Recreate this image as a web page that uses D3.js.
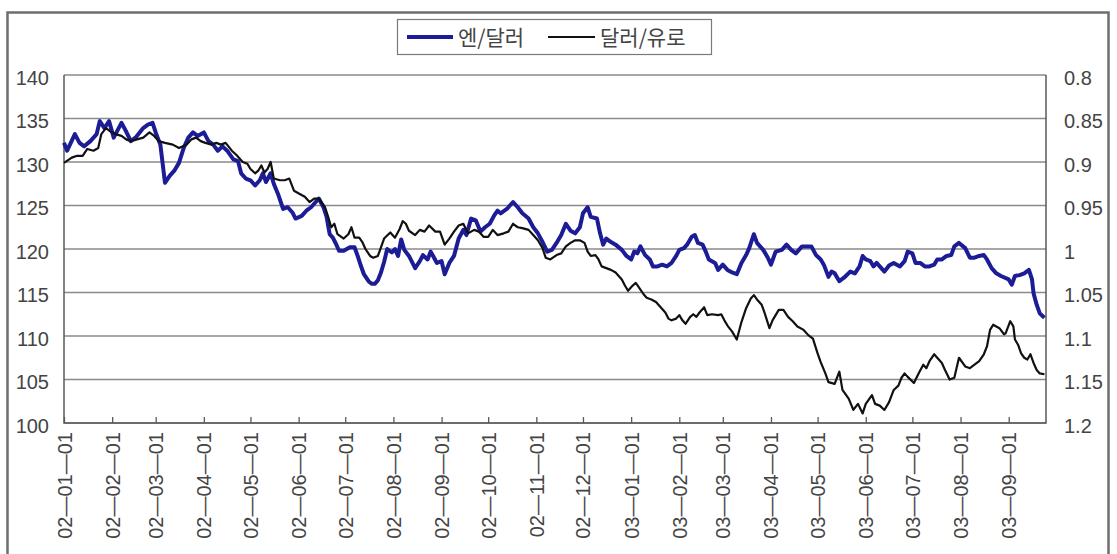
<!DOCTYPE html>
<html>
<head>
<meta charset="utf-8">
<script src="https://cdn.jsdelivr.net/npm/d3@7"></script>
<style>
  body { margin: 0; background: #fff; }
  svg { display: block; font-family: "Liberation Sans", Arial, sans-serif; }
</style>
</head>
<body>
<svg id="chart" width="1117" height="554"></svg>
<script>
// series names (legend)
const seriesNames = ["엔/달러", "달러/유로"];

// month tick labels on the x axis
const xTickLabels = ["02-01-01", "02-02-01", "02-03-01", "02-04-01", "02-05-01", "02-06-01",
  "02-07-01", "02-08-01", "02-09-01", "02-10-01", "02-11-01", "02-12-01",
  "03-01-01", "03-02-01", "03-03-01", "03-04-01", "03-05-01", "03-06-01",
  "03-07-01", "03-08-01", "03-09-01"];

const leftTicks = [100, 105, 110, 115, 120, 125, 130, 135, 140];
const rightTicks = [0.8, 0.85, 0.9, 0.95, 1, 1.05, 1.1, 1.15, 1.2];
const rightTickLabels = ["0.8", "0.85", "0.9", "0.95", "1", "1.05", "1.1", "1.15", "1.2"];

// yen per dollar (left axis)
const yenDollar = [
  ["2002-01-01", 132.2], ["2002-01-03", 131.3], ["2002-01-08", 133.2], ["2002-01-11", 132.2],
  ["2002-01-14", 131.8], ["2002-01-18", 132.4], ["2002-01-22", 133.2], ["2002-01-24", 134.7],
  ["2002-01-27", 133.9], ["2002-01-30", 134.7], ["2002-02-02", 132.8], ["2002-02-07", 134.5],
  ["2002-02-10", 133.5], ["2002-02-13", 132.4], ["2002-02-16", 132.8], ["2002-02-21", 133.9],
  ["2002-02-24", 134.3], ["2002-02-27", 134.5], ["2002-03-01", 133.4], ["2002-03-04", 132.0],
  ["2002-03-07", 127.6], ["2002-03-10", 128.4], ["2002-03-13", 129.0], ["2002-03-16", 129.9],
  ["2002-03-19", 131.6], ["2002-03-22", 132.8], ["2002-03-25", 133.4], ["2002-03-28", 133.0],
  ["2002-04-01", 133.4], ["2002-04-04", 132.4], ["2002-04-07", 132.0], ["2002-04-10", 131.3],
  ["2002-04-13", 131.8], ["2002-04-16", 131.3], ["2002-04-20", 130.3], ["2002-04-23", 130.1],
  ["2002-04-25", 128.7], ["2002-04-28", 128.1], ["2002-05-01", 127.9], ["2002-05-04", 127.3],
  ["2002-05-07", 127.9], ["2002-05-09", 128.7], ["2002-05-11", 127.7], ["2002-05-14", 128.7],
  ["2002-05-16", 127.5], ["2002-05-19", 126.2], ["2002-05-22", 124.6], ["2002-05-25", 124.8],
  ["2002-05-28", 124.2], ["2002-05-30", 123.5], ["2002-06-03", 123.8], ["2002-06-06", 124.4],
  ["2002-06-09", 124.8], ["2002-06-12", 125.4], ["2002-06-14", 125.8], ["2002-06-17", 124.8],
  ["2002-06-19", 123.7], ["2002-06-21", 121.7], ["2002-06-23", 121.3], ["2002-06-25", 120.6],
  ["2002-06-27", 119.8], ["2002-06-30", 119.8], ["2002-07-04", 120.2], ["2002-07-07", 120.2],
  ["2002-07-09", 119.2], ["2002-07-11", 118.1], ["2002-07-13", 117.1], ["2002-07-16", 116.3],
  ["2002-07-18", 116.0], ["2002-07-20", 116.0], ["2002-07-22", 116.4], ["2002-07-24", 117.3],
  ["2002-07-26", 118.5], ["2002-07-28", 120.0], ["2002-07-31", 119.6], ["2002-08-02", 120.0],
  ["2002-08-04", 119.2], ["2002-08-06", 121.1], ["2002-08-08", 119.9], ["2002-08-11", 119.2],
  ["2002-08-15", 117.8], ["2002-08-18", 118.6], ["2002-08-20", 119.3], ["2002-08-23", 118.8],
  ["2002-08-25", 119.7], ["2002-08-29", 118.4], ["2002-09-01", 118.6], ["2002-09-03", 117.1],
  ["2002-09-06", 118.4], ["2002-09-09", 119.2], ["2002-09-12", 121.2], ["2002-09-15", 122.2],
  ["2002-09-17", 121.6], ["2002-09-20", 123.5], ["2002-09-23", 123.3], ["2002-09-26", 122.0],
  ["2002-09-29", 122.5], ["2002-10-02", 122.9], ["2002-10-05", 123.9], ["2002-10-07", 124.4],
  ["2002-10-09", 124.1], ["2002-10-13", 124.6], ["2002-10-17", 125.4], ["2002-10-20", 124.8],
  ["2002-10-23", 124.1], ["2002-10-27", 123.5], ["2002-10-30", 122.5], ["2002-11-02", 121.8],
  ["2002-11-05", 120.8], ["2002-11-08", 119.7], ["2002-11-11", 119.9], ["2002-11-14", 120.7],
  ["2002-11-17", 121.6], ["2002-11-20", 122.9], ["2002-11-23", 122.1], ["2002-11-26", 121.8],
  ["2002-11-29", 122.5], ["2002-12-01", 124.1], ["2002-12-04", 124.8], ["2002-12-06", 123.7],
  ["2002-12-10", 123.5], ["2002-12-12", 121.8], ["2002-12-14", 120.5], ["2002-12-16", 121.2],
  ["2002-12-19", 120.8], ["2002-12-22", 120.5], ["2002-12-26", 119.9], ["2002-12-29", 119.2],
  ["2003-01-01", 118.8], ["2003-01-03", 119.7], ["2003-01-05", 119.5], ["2003-01-07", 120.3],
  ["2003-01-10", 119.3], ["2003-01-13", 118.8], ["2003-01-15", 118.0], ["2003-01-18", 118.0],
  ["2003-01-21", 118.2], ["2003-01-24", 118.0], ["2003-01-27", 118.4], ["2003-01-30", 119.2],
  ["2003-02-01", 119.9], ["2003-02-04", 120.1], ["2003-02-06", 120.5], ["2003-02-09", 121.4],
  ["2003-02-11", 121.6], ["2003-02-13", 120.7], ["2003-02-16", 120.5], ["2003-02-18", 119.7],
  ["2003-02-20", 118.8], ["2003-02-24", 118.4], ["2003-02-26", 117.6], ["2003-03-01", 118.2],
  ["2003-03-04", 117.6], ["2003-03-07", 117.3], ["2003-03-10", 117.1], ["2003-03-13", 118.4],
  ["2003-03-16", 119.3], ["2003-03-18", 120.1], ["2003-03-21", 121.7], ["2003-03-23", 120.7],
  ["2003-03-27", 119.9], ["2003-03-30", 119.0], ["2003-04-01", 118.2], ["2003-04-04", 119.7],
  ["2003-04-08", 119.9], ["2003-04-11", 120.5], ["2003-04-14", 119.9], ["2003-04-17", 119.5],
  ["2003-04-21", 120.3], ["2003-04-24", 120.3], ["2003-04-27", 120.3], ["2003-04-30", 119.3],
  ["2003-05-03", 118.8], ["2003-05-05", 118.2], ["2003-05-08", 116.8], ["2003-05-10", 117.4],
  ["2003-05-12", 117.2], ["2003-05-15", 116.3], ["2003-05-18", 116.7], ["2003-05-22", 117.4],
  ["2003-05-25", 117.2], ["2003-05-28", 118.0], ["2003-05-30", 119.2], ["2003-06-01", 118.8],
  ["2003-06-04", 118.6], ["2003-06-06", 118.0], ["2003-06-08", 118.4], ["2003-06-10", 118.0],
  ["2003-06-13", 117.4], ["2003-06-16", 118.1], ["2003-06-19", 118.4], ["2003-06-23", 118.0],
  ["2003-06-26", 118.6], ["2003-06-28", 119.7], ["2003-07-01", 119.5], ["2003-07-03", 118.4],
  ["2003-07-06", 118.4], ["2003-07-09", 118.0], ["2003-07-12", 118.0], ["2003-07-15", 118.2],
  ["2003-07-17", 118.8], ["2003-07-20", 118.8], ["2003-07-23", 119.2], ["2003-07-26", 119.3],
  ["2003-07-28", 120.3], ["2003-07-31", 120.7], ["2003-08-04", 120.1], ["2003-08-07", 119.0],
  ["2003-08-10", 119.0], ["2003-08-13", 119.2], ["2003-08-16", 119.3], ["2003-08-18", 118.8],
  ["2003-08-21", 117.8], ["2003-08-24", 117.2], ["2003-08-27", 116.9], ["2003-09-01", 116.5],
  ["2003-09-03", 115.9], ["2003-09-05", 116.9], ["2003-09-08", 117.0], ["2003-09-11", 117.2],
  ["2003-09-14", 117.6], ["2003-09-16", 116.5], ["2003-09-17", 114.9], ["2003-09-19", 113.6],
  ["2003-09-21", 112.6], ["2003-09-24", 112.1]
];

// dollars per euro (right axis, inverted)
const dollarEuro = [
  ["2002-01-01", 0.901], ["2002-01-06", 0.895], ["2002-01-09", 0.893], ["2002-01-13", 0.893],
  ["2002-01-16", 0.885], ["2002-01-20", 0.887], ["2002-01-23", 0.884], ["2002-01-25", 0.868],
  ["2002-01-28", 0.861], ["2002-01-31", 0.865], ["2002-02-03", 0.868], ["2002-02-07", 0.870],
  ["2002-02-10", 0.874], ["2002-02-13", 0.876], ["2002-02-17", 0.874], ["2002-02-21", 0.872],
  ["2002-02-25", 0.866], ["2002-02-28", 0.870], ["2002-03-03", 0.876], ["2002-03-07", 0.878],
  ["2002-03-12", 0.880], ["2002-03-16", 0.884], ["2002-03-21", 0.880], ["2002-03-24", 0.874],
  ["2002-03-27", 0.872], ["2002-03-30", 0.876], ["2002-04-02", 0.878], ["2002-04-06", 0.880],
  ["2002-04-09", 0.878], ["2002-04-12", 0.880], ["2002-04-15", 0.878], ["2002-04-19", 0.887],
  ["2002-04-22", 0.892], ["2002-04-26", 0.900], ["2002-04-29", 0.902], ["2002-05-01", 0.908],
  ["2002-05-04", 0.913], ["2002-05-06", 0.910], ["2002-05-08", 0.904], ["2002-05-10", 0.912],
  ["2002-05-12", 0.908], ["2002-05-14", 0.900], ["2002-05-16", 0.919], ["2002-05-20", 0.921],
  ["2002-05-23", 0.921], ["2002-05-26", 0.919], ["2002-05-29", 0.933], ["2002-06-02", 0.937],
  ["2002-06-05", 0.940], ["2002-06-08", 0.946], ["2002-06-11", 0.942], ["2002-06-14", 0.942],
  ["2002-06-18", 0.952], ["2002-06-20", 0.963], ["2002-06-22", 0.975], ["2002-06-24", 0.971],
  ["2002-06-26", 0.983], ["2002-06-30", 0.988], ["2002-07-03", 0.983], ["2002-07-05", 0.975],
  ["2002-07-07", 0.987], ["2002-07-10", 0.987], ["2002-07-12", 0.992], ["2002-07-14", 1.000],
  ["2002-07-17", 1.008], ["2002-07-19", 1.010], ["2002-07-22", 1.008], ["2002-07-24", 0.998],
  ["2002-07-26", 0.988], ["2002-07-30", 0.981], ["2002-08-02", 0.987], ["2002-08-05", 0.977],
  ["2002-08-07", 0.968], ["2002-08-09", 0.971], ["2002-08-11", 0.979], ["2002-08-15", 0.984],
  ["2002-08-18", 0.978], ["2002-08-21", 0.980], ["2002-08-24", 0.973], ["2002-08-28", 0.980],
  ["2002-08-31", 0.980], ["2002-09-03", 0.995], ["2002-09-06", 0.988], ["2002-09-09", 0.980],
  ["2002-09-12", 0.973], ["2002-09-15", 0.971], ["2002-09-18", 0.982], ["2002-09-22", 0.978],
  ["2002-09-25", 0.980], ["2002-09-28", 0.986], ["2002-10-01", 0.986], ["2002-10-04", 0.978],
  ["2002-10-07", 0.984], ["2002-10-11", 0.982], ["2002-10-14", 0.980], ["2002-10-17", 0.971],
  ["2002-10-20", 0.975], ["2002-10-23", 0.976], ["2002-10-27", 0.978], ["2002-10-30", 0.984],
  ["2002-11-02", 0.990], ["2002-11-05", 0.999], ["2002-11-07", 1.010], ["2002-11-10", 1.012],
  ["2002-11-14", 1.007], ["2002-11-17", 1.005], ["2002-11-20", 0.997], ["2002-11-23", 0.993],
  ["2002-11-26", 0.990], ["2002-11-29", 0.990], ["2002-12-02", 0.993], ["2002-12-04", 1.003],
  ["2002-12-06", 1.008], ["2002-12-09", 1.007], ["2002-12-11", 1.012], ["2002-12-13", 1.020],
  ["2002-12-16", 1.022], ["2002-12-19", 1.024], ["2002-12-22", 1.027], ["2002-12-26", 1.035],
  ["2002-12-28", 1.042], ["2002-12-30", 1.048], ["2003-01-02", 1.042], ["2003-01-04", 1.039],
  ["2003-01-06", 1.044], ["2003-01-09", 1.052], ["2003-01-11", 1.056], ["2003-01-14", 1.058],
  ["2003-01-17", 1.061], ["2003-01-19", 1.065], ["2003-01-23", 1.073], ["2003-01-25", 1.080],
  ["2003-01-27", 1.082], ["2003-01-30", 1.080], ["2003-02-01", 1.076], ["2003-02-03", 1.082],
  ["2003-02-05", 1.086], ["2003-02-08", 1.078], ["2003-02-10", 1.075], ["2003-02-12", 1.078],
  ["2003-02-14", 1.073], ["2003-02-17", 1.067], ["2003-02-19", 1.076], ["2003-02-22", 1.075],
  ["2003-02-26", 1.076], ["2003-02-28", 1.075], ["2003-03-02", 1.082], ["2003-03-04", 1.088],
  ["2003-03-07", 1.095], ["2003-03-10", 1.104], ["2003-03-13", 1.084], ["2003-03-16", 1.068],
  ["2003-03-19", 1.057], ["2003-03-21", 1.053], ["2003-03-23", 1.058], ["2003-03-26", 1.064],
  ["2003-03-28", 1.074], ["2003-03-31", 1.091], ["2003-04-02", 1.082], ["2003-04-06", 1.070],
  ["2003-04-09", 1.070], ["2003-04-12", 1.078], ["2003-04-15", 1.083], ["2003-04-18", 1.089],
  ["2003-04-22", 1.093], ["2003-04-25", 1.099], ["2003-04-28", 1.103], ["2003-05-01", 1.120],
  ["2003-05-03", 1.130], ["2003-05-06", 1.143], ["2003-05-08", 1.153], ["2003-05-12", 1.155],
  ["2003-05-15", 1.141], ["2003-05-17", 1.162], ["2003-05-21", 1.172], ["2003-05-24", 1.185],
  ["2003-05-27", 1.178], ["2003-05-30", 1.189], ["2003-06-01", 1.178], ["2003-06-05", 1.168],
  ["2003-06-07", 1.178], ["2003-06-10", 1.180], ["2003-06-13", 1.185], ["2003-06-16", 1.176],
  ["2003-06-19", 1.162], ["2003-06-22", 1.157], ["2003-06-24", 1.148], ["2003-06-26", 1.143],
  ["2003-06-28", 1.147], ["2003-07-02", 1.154], ["2003-07-05", 1.143], ["2003-07-08", 1.133],
  ["2003-07-10", 1.137], ["2003-07-12", 1.129], ["2003-07-15", 1.121], ["2003-07-17", 1.125],
  ["2003-07-20", 1.131], ["2003-07-22", 1.139], ["2003-07-25", 1.150], ["2003-07-28", 1.148],
  ["2003-07-31", 1.125], ["2003-08-04", 1.135], ["2003-08-07", 1.137], ["2003-08-10", 1.133],
  ["2003-08-13", 1.129], ["2003-08-16", 1.121], ["2003-08-18", 1.112], ["2003-08-20", 1.093],
  ["2003-08-22", 1.087], ["2003-08-24", 1.089], ["2003-08-26", 1.091], ["2003-08-29", 1.098],
  ["2003-08-30", 1.097], ["2003-09-02", 1.083], ["2003-09-04", 1.089], ["2003-09-05", 1.104],
  ["2003-09-07", 1.110], ["2003-09-09", 1.120], ["2003-09-11", 1.125], ["2003-09-13", 1.127],
  ["2003-09-15", 1.121], ["2003-09-17", 1.131], ["2003-09-19", 1.139], ["2003-09-21", 1.143],
  ["2003-09-24", 1.144]
];

const parseDay = d3.timeParse("%Y-%m-%d");
const parseTick = d3.timeParse("%y-%m-%d");

const svg = d3.select("#chart");
const plotLeft = 64, plotRight = 1046, plotTop = 75, plotBottom = 423;

const x = d3.scaleTime()
  .domain([parseDay("2002-01-01"), parseDay("2003-09-25")])
  .range([plotLeft, plotRight]);
const yLeft = d3.scaleLinear().domain([100, 140]).range([plotBottom, plotTop]);
const yRight = d3.scaleLinear().domain([0.8, 1.2]).range([plotTop, plotBottom]);

// outer frame
svg.append("rect")
  .attr("x", 7.5).attr("y", 12.5)
  .attr("width", 1101).attr("height", 560)
  .attr("fill", "none")
  .attr("stroke", "#6e6e6e")
  .attr("stroke-width", 2.5);

// horizontal grid lines
svg.append("g")
  .selectAll("line")
  .data(leftTicks)
  .enter()
  .append("line")
  .attr("x1", plotLeft).attr("x2", plotRight)
  .attr("y1", d => yLeft(d)).attr("y2", d => yLeft(d))
  .attr("stroke", "#8a8a8a")
  .attr("stroke-width", 1.3);

// plot border (left, right, bottom)
svg.append("path")
  .attr("d", `M${plotLeft},${plotTop}V${plotBottom}H${plotRight}V${plotTop}`)
  .attr("fill", "none")
  .attr("stroke", "#5a5a5a")
  .attr("stroke-width", 1.5);

// x axis with month ticks
const tickDates = xTickLabels.map(parseTick);
const xAxis = svg.append("g")
  .attr("transform", "translate(0," + plotBottom + ")")
  .call(d3.axisBottom(x)
    .tickValues(tickDates)
    .tickFormat((d, i) => xTickLabels[i].replace(/-/g, "\u2014"))
    .tickSizeInner(-6)
    .tickSizeOuter(0));
xAxis.select(".domain").remove();
xAxis.selectAll("line").attr("stroke", "#5a5a5a").attr("stroke-width", 1.3);
xAxis.selectAll("text")
  .attr("transform", "rotate(-90)")
  .attr("x", -9)
  .attr("y", 0)
  .attr("dy", "0.35em")
  .style("text-anchor", "end")
  .style("font-size", "20px")
  .style("font-family", "'Liberation Sans', Arial, sans-serif")
  .attr("fill", "#444");

// left axis labels
const leftAxis = svg.append("g")
  .attr("transform", "translate(" + plotLeft + ",0)")
  .call(d3.axisLeft(yLeft).tickValues(leftTicks).tickSize(0).tickPadding(15));
leftAxis.select(".domain").remove();
leftAxis.selectAll("text")
  .attr("dy", "0.45em")
  .style("font-size", "20px")
  .style("font-family", "'Liberation Sans', Arial, sans-serif")
  .attr("fill", "#444");

// right axis labels
const rightAxis = svg.append("g")
  .attr("transform", "translate(" + plotRight + ",0)")
  .call(d3.axisRight(yRight).tickValues(rightTicks).tickSize(0).tickPadding(18)
    .tickFormat((d, i) => rightTickLabels[i]));
rightAxis.select(".domain").remove();
rightAxis.selectAll("text")
  .attr("dy", "0.45em")
  .style("font-size", "20px")
  .style("font-family", "'Liberation Sans', Arial, sans-serif")
  .attr("fill", "#444");

// lines
const yenLine = d3.line()
  .x(d => x(parseDay(d[0])))
  .y(d => yLeft(d[1]));
const eurLine = d3.line()
  .x(d => x(parseDay(d[0])))
  .y(d => yRight(d[1]));

svg.append("path")
  .datum(yenDollar)
  .attr("d", yenLine)
  .attr("fill", "none")
  .attr("stroke", "#1c1c96")
  .attr("stroke-width", 4)
  .attr("stroke-linejoin", "round");

svg.append("path")
  .datum(dollarEuro)
  .attr("d", eurLine)
  .attr("fill", "none")
  .attr("stroke", "#111")
  .attr("stroke-width", 2.2)
  .attr("stroke-linejoin", "round");

// legend
const legend = svg.append("g");
legend.append("rect")
  .attr("x", 397.5).attr("y", 19.5)
  .attr("width", 314).attr("height", 35)
  .attr("fill", "#fff")
  .attr("stroke", "#7a7a7a")
  .attr("stroke-width", 1.2);
legend.append("line")
  .attr("x1", 407).attr("x2", 453).attr("y1", 37).attr("y2", 37)
  .attr("stroke", "#1c1c96").attr("stroke-width", 4);
legend.append("text")
  .attr("x", 458).attr("y", 45)
  .style("font-family", "'Noto Sans CJK KR', sans-serif")
  .style("font-size", "21px")
  .attr("fill", "#444")
  .text(seriesNames[0]);
legend.append("line")
  .attr("x1", 548).attr("x2", 595).attr("y1", 37).attr("y2", 37)
  .attr("stroke", "#111").attr("stroke-width", 2.2);
legend.append("text")
  .attr("x", 600).attr("y", 45)
  .style("font-family", "'Noto Sans CJK KR', sans-serif")
  .style("font-size", "21px")
  .attr("fill", "#444")
  .text(seriesNames[1]);
</script>
</body>
</html>
